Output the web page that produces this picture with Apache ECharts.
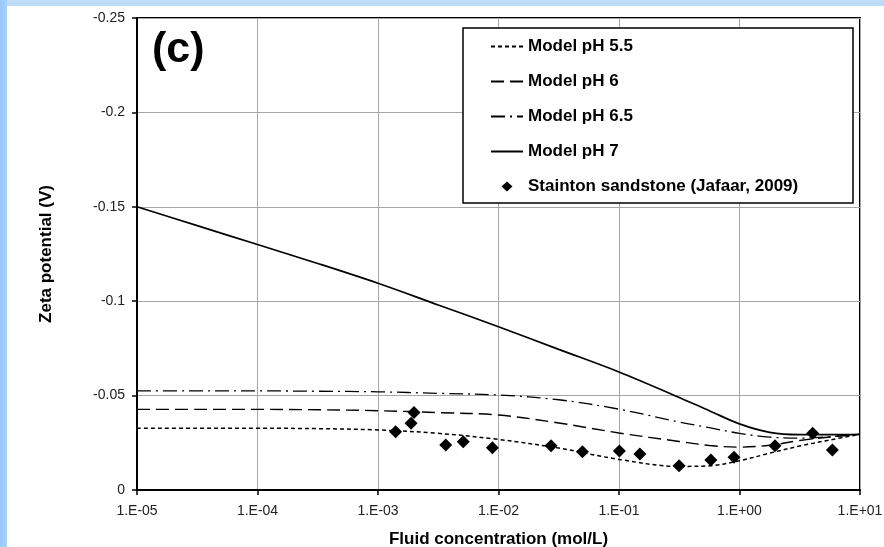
<!DOCTYPE html>
<html>
<head>
<meta charset="utf-8">
<script src="https://cdn.jsdelivr.net/npm/echarts@6/dist/echarts.min.js"></script>
<style>
  html, body { margin: 0; padding: 0; background: #ffffff; }
  #wrap { position: relative; width: 884px; height: 547px; overflow: hidden; background: #ffffff; }
  #bandTop { position: absolute; left: 0; top: 0; width: 884px; height: 6px; background: #bfdcf6; }
  #bandLeft { position: absolute; left: 0; top: 0; width: 7px; height: 547px;
              background: linear-gradient(to right, #98c8fa, #a8d0f8); }
  #chart { position: absolute; left: 0; top: 0; width: 884px; height: 547px; }
</style>
</head>
<body>
<div id="wrap">
  <div id="bandTop"></div>
  <div id="bandLeft"></div>
  <div id="chart"></div>
</div>
<script>
// Fluid concentration (mol/L) at which the model curves are evaluated
const modelConc = [1e-5, 3.16e-5, 1e-4, 3.16e-4, 1e-3, 3.16e-3, 1e-2, 3.16e-2,
                   1e-1, 3.16e-1, 0.562, 1, 1.78, 3.16, 5.62, 10];

// Model zeta potential (V) for each pH
const modelPH55 = [-0.0327, -0.0327, -0.0327, -0.0325, -0.0318, -0.0300, -0.0268, -0.0222,
                   -0.0162, -0.0125, -0.0128, -0.0155, -0.0195, -0.0233, -0.0265, -0.0295];
const modelPH6  = [-0.0427, -0.0427, -0.0427, -0.0425, -0.0420, -0.0410, -0.0397, -0.0355,
                   -0.0302, -0.0257, -0.0236, -0.0227, -0.0237, -0.0262, -0.0281, -0.0295];
const modelPH65 = [-0.0525, -0.0525, -0.0525, -0.0523, -0.0520, -0.0512, -0.0503, -0.0478,
                   -0.0428, -0.0360, -0.0330, -0.0300, -0.0280, -0.0275, -0.0282, -0.0295];
const modelPH7  = [-0.150, -0.140, -0.130, -0.120, -0.1095, -0.098, -0.0865, -0.0745,
                   -0.0625, -0.049, -0.042, -0.035, -0.0305, -0.0293, -0.0293, -0.0295];

// Measured data: Stainton sandstone (Jafaar, 2009)
const staintonConc = [1.40e-3, 1.88e-3, 1.99e-3, 3.65e-3, 5.1e-3, 8.9e-3, 2.73e-2, 4.97e-2,
                      0.1007, 0.149, 0.315, 0.579, 0.90, 1.97, 4.05, 5.9];
const staintonZeta = [-0.0309, -0.0353, -0.0410, -0.0238, -0.0256, -0.0224, -0.0235, -0.0203,
                      -0.0207, -0.0191, -0.0129, -0.0159, -0.0173, -0.0235, -0.0300, -0.0212];

// Axis tick labels
const xTickLabels = ['1.E-05', '1.E-04', '1.E-03', '1.E-02', '1.E-01', '1.E+00', '1.E+01'];
const yTickLabels = ['-0.25', '-0.2', '-0.15', '-0.1', '-0.05', '0'];

const seriesNames = ['Model pH 5.5', 'Model pH 6', 'Model pH 6.5', 'Model pH 7',
                     'Stainton sandstone (Jafaar, 2009)'];

const FONT = "'Liberation Sans', Arial, sans-serif";

// Legend diamond: the leading moves span the full 32x10 icon box so the
// diamond keeps its shape instead of being stretched across the box
const LEGEND_DIAMOND = 'path://M0,0M32,10M10.5,5L16,0L21.5,5L16,10Z';

function pairs(xs, ys) {
  return xs.map((x, i) => [x, ys[i]]);
}

function modelSeries(name, values, dash, width) {
  return {
    name: name,
    type: 'line',
    data: pairs(modelConc, values),
    smooth: 0.35,
    symbol: 'none',
    showSymbol: false,
    lineStyle: { color: '#000', width: width, type: dash },
    itemStyle: { color: '#000' },
    z: 3
  };
}

// Legend entries: line icons only for the model curves, a diamond for the data
const legendData = seriesNames.map((name, i) => i < 4
  ? { name: name, icon: 'inherit', itemStyle: { opacity: 0 } }
  : { name: name, icon: LEGEND_DIAMOND });

const chart = echarts.init(document.getElementById('chart'), null, { renderer: 'canvas' });

chart.setOption({
  backgroundColor: 'transparent',
  animation: false,
  textStyle: { fontFamily: FONT },
  grid: {
    left: 137, right: 24, top: 18, bottom: 57,
    outerBoundsMode: 'none',
    containLabel: false,
    show: true, borderColor: '#000', borderWidth: 2, backgroundColor: 'transparent'
  },
  xAxis: {
    type: 'log',
    logBase: 10,
    min: 1e-5,
    max: 10,
    name: 'Fluid concentration (mol/L)',
    nameLocation: 'middle',
    nameGap: 41,
    nameTextStyle: { fontFamily: FONT, fontSize: 17, fontWeight: 'bold', color: '#000' },
    axisLine: { show: true, lineStyle: { color: '#000', width: 2 } },
    axisTick: { show: true, inside: false, length: 5, lineStyle: { color: '#000', width: 1.5 } },
    minorTick: { show: false },
    axisLabel: {
      margin: 14,
      fontFamily: FONT, fontSize: 14, color: '#222',
      formatter: function (v) {
        const k = Math.round(Math.log10(v)) + 5;
        return xTickLabels[k] !== undefined ? xTickLabels[k] : '';
      }
    },
    splitLine: { show: true, lineStyle: { color: '#a6a6a6', width: 1 } }
  },
  yAxis: {
    type: 'value',
    inverse: true,
    min: -0.25,
    max: 0,
    interval: 0.05,
    name: 'Zeta potential (V)',
    nameLocation: 'middle',
    nameGap: 82,
    nameTextStyle: { fontFamily: FONT, fontSize: 17, fontWeight: 'bold', color: '#000' },
    axisLine: { show: true, lineStyle: { color: '#000', width: 2 } },
    axisTick: { show: true, inside: false, length: 5, lineStyle: { color: '#000', width: 1.5 } },
    axisLabel: {
      margin: 12,
      fontFamily: FONT, fontSize: 14, color: '#222',
      formatter: function (v) {
        const k = Math.round((v + 0.25) / 0.05);
        return yTickLabels[k] !== undefined ? yTickLabels[k] : '';
      }
    },
    splitLine: { show: true, lineStyle: { color: '#a6a6a6', width: 1 } }
  },
  legend: {
    orient: 'vertical',
    left: 490,
    top: 38,
    padding: 0,
    itemWidth: 32,
    itemHeight: 10,
    itemGap: 18,
    z: 6,
    data: legendData,
    textStyle: { fontFamily: FONT, fontSize: 17, fontWeight: 'bold', color: '#000' }
  },
  graphic: [
    {
      type: 'rect',
      z: 5,
      shape: { x: 463, y: 28, width: 390, height: 175 },
      style: { fill: '#fff', stroke: '#000', lineWidth: 1.5 }
    },
    {
      type: 'text',
      z: 5,
      left: 152,
      top: 29,
      style: { text: '(c)', font: "bold 43px 'Liberation Sans', Arial, sans-serif", fill: '#000' }
    }
  ],
  series: [
    modelSeries(seriesNames[0], modelPH55, [4, 3], 1.5),
    modelSeries(seriesNames[1], modelPH6, [13, 6], 1.4),
    modelSeries(seriesNames[2], modelPH65, [14, 5, 2, 5], 1.3),
    modelSeries(seriesNames[3], modelPH7, 'solid', 1.7),
    {
      name: seriesNames[4],
      type: 'scatter',
      data: pairs(staintonConc, staintonZeta),
      symbol: 'diamond',
      symbolSize: 13,
      itemStyle: { color: '#000', opacity: 1 },
      z: 4
    }
  ]
});
</script>
</body>
</html>
